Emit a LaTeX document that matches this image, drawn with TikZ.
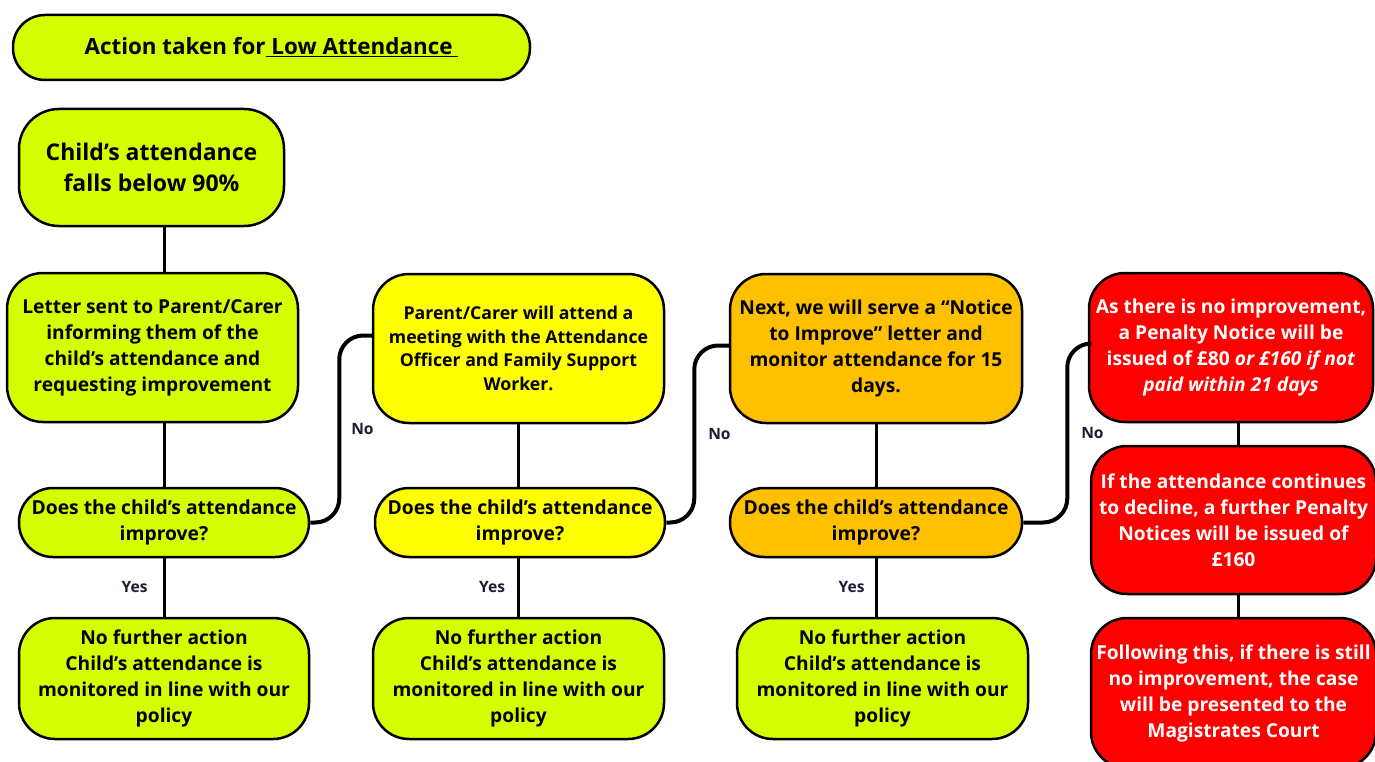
\documentclass[tikz,border=0pt]{standalone}
\usepackage{fontspec}
\setmainfont{Open Sans}
\usetikzlibrary{calc}
\definecolor{lime}{RGB}{213,255,0}
\definecolor{yel}{RGB}{255,255,0}
\definecolor{orng}{RGB}{255,192,0}
\definecolor{redb}{RGB}{255,0,0}
\definecolor{labc}{RGB}{25,30,55}
\begin{document}
\begin{tikzpicture}[x=1pt,y=-1pt,
 box/.style={draw=black, line width=2.5pt, rounded corners=36pt, inner sep=0pt, align=center},
 tall/.style={minimum height=149pt, font=\bfseries\fontsize{19.2}{26}\selectfont},
 ques/.style={minimum height=69pt, rounded corners=34pt, font=\bfseries\fontsize{19.3}{26}\selectfont},
 endb/.style={minimum height=121pt, font=\bfseries\fontsize{19.2}{26}\selectfont},
 link/.style={line width=3pt},
 nolink/.style={line width=4pt, rounded corners=24pt},
 lab/.style={font=\bfseries\fontsize{15.6}{17}\selectfont, text=labc, inner sep=0pt}]
\clip (0,0) rectangle (1375,762);
% title
\node[box, fill=lime, minimum width=517pt, minimum height=65pt, rounded corners=32pt,
  font=\bfseries\fontsize{22.4}{26}\selectfont] (T) at (271.5,47.5)
  {Action taken for\underline{\ Low Attendance\ }};
% column 1
\node[box, fill=lime, minimum width=265pt, minimum height=117pt, rounded corners=40pt,
  font=\bfseries\fontsize{23}{31}\selectfont] (A) at (151.5,167.5)
  {Child’s attendance\\falls below 90\%};
\node[box, tall, fill=lime, minimum width=291pt] (B) at (152.5,347.5)
  {Letter sent to Parent/Carer\\informing them of the\\child’s attendance and\\requesting improvement};
\node[box, ques, fill=lime, minimum width=290pt] (C) at (164,522.5)
  {Does the child’s attendance\\improve?};
\node[box, endb, fill=lime, minimum width=290pt] (D) at (164,678.5)
  {No further action\\Child’s attendance is\\monitored in line with our\\policy};
% column 2
\node[box, fill=yel, minimum width=291pt, minimum height=149pt,
  font=\bfseries\fontsize{17.7}{23.5}\selectfont] (E) at (518.5,348.5)
  {Parent/Carer will attend a\\meeting with the Attendance\\Officer and Family Support\\Worker.};
\node[box, ques, fill=yel, minimum width=290pt] (F) at (520,522.5)
  {Does the child’s attendance\\improve?};
\node[box, endb, fill=lime, minimum width=291pt] (G) at (518.5,678.5)
  {No further action\\Child’s attendance is\\monitored in line with our\\policy};
% column 3
\node[box, tall, fill=orng, minimum width=292pt] (H) at (876,348.5)
  {Next, we will serve a “Notice\\to Improve” letter and\\monitor attendance for 15\\days.};
\node[box, ques, fill=orng, minimum width=292pt] (I) at (876,522.5)
  {Does the child’s attendance\\improve?};
\node[box, endb, fill=lime, minimum width=291pt] (J) at (882.5,678.5)
  {No further action\\Child’s attendance is\\monitored in line with our\\policy};
% column 4
\node[box, tall, fill=redb, text=white, minimum width=284pt] (K) at (1231,347.5)
  {As there is no improvement,\\a Penalty Notice will be\\issued of £80 \textit{or £160 if not}\\\textit{paid within 21 days}};
\node[box, tall, fill=redb, text=white, minimum width=285pt, minimum height=148pt] (L) at (1233.5,520)
  {If the attendance continues\\to decline, a further Penalty\\Notices will be issued of\\£160};
\node[box, tall, fill=redb, text=white, minimum width=285pt, minimum height=150pt] (M) at (1233.5,693)
  {Following this, if there is still\\no improvement, the case\\will be presented to the\\Magistrates Court};
\coordinate (r) at (1238,0);
% vertical links
\draw[link] (C.north |- A.south) -- (C.north |- B.north);
\draw[link] (C.north |- B.south) -- (C.north);
\draw[link] (C.south) -- node[lab, left=15pt]{Yes} (D.north);
\draw[link] (E.south) -- (E.south |- F.north);
\draw[link] (E.south |- F.south) -- node[lab, left=12pt]{Yes} (E.south |- G.north);
\draw[link] (H.south) -- (H.south |- I.north);
\draw[link] (H.south |- I.south) -- node[lab, left=10pt]{Yes} (H.south |- J.north);
\draw[link] (r |- K.south) -- (r |- L.north);
\draw[link] (r |- L.south) -- (r |- M.north);
% No links
\draw[nolink] (C.east) -- ++(29,0) |- node[lab, pos=0.25, right=10pt]{No} ([yshift=13pt]E.west);
\draw[nolink] (F.east) -- ++(28,0) |- node[lab, pos=0.25, right=12pt]{No} ([yshift=3pt]H.west);
\draw[nolink] (I.east) -- ++(44,0) |- node[lab, pos=0.25, right=12pt]{No} ([yshift=4pt]K.west);
\end{tikzpicture}
\end{document}
